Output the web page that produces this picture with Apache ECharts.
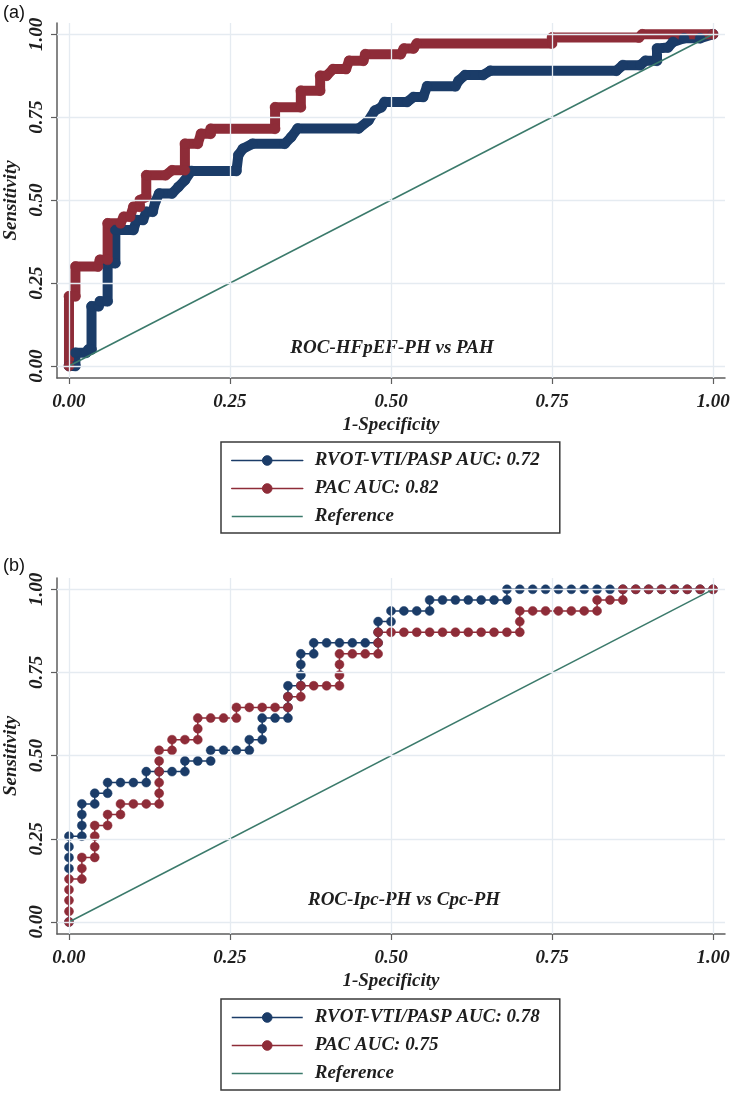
<!DOCTYPE html>
<html><head><meta charset="utf-8">
<script src="https://cdn.jsdelivr.net/npm/echarts@6.0.0/dist/echarts.min.js"></script>
<style>html,body{margin:0;padding:0;background:#fff;}#c{width:743px;height:1094px;}</style>
</head><body><div id="c"></div>
<script>
// ---- tick labels ----
const tickValues = [0, 0.25, 0.5, 0.75, 1];

// ---- panel (a): ROC-HFpEF-PH vs PAH ----
const aTitle = 'ROC-HFpEF-PH vs PAH';
const aBlueName = 'RVOT-VTI/PASP AUC: 0.72';
const aRedName = 'PAC AUC: 0.82';
const aBlueX = [0,0.01,0.01,0.027,0.03,0.035,0.035,0.046,0.048,0.06,0.06,0.072,0.072,0.10,0.105,0.115,0.12,0.13,0.134,0.14,0.16,0.17,0.18,0.19,0.26,0.263,0.27,0.285,0.335,0.345,0.355,0.45,0.465,0.475,0.485,0.49,0.525,0.535,0.55,0.556,0.60,0.605,0.615,0.643,0.654,0.85,0.86,0.887,0.895,0.913,0.913,0.93,0.938,0.955,0.98,1];
const aBlueY = [0,0,0.04,0.04,0.05,0.05,0.18,0.18,0.195,0.195,0.31,0.31,0.41,0.41,0.44,0.44,0.465,0.465,0.495,0.52,0.52,0.54,0.56,0.588,0.588,0.636,0.655,0.67,0.67,0.69,0.716,0.716,0.74,0.77,0.78,0.796,0.796,0.811,0.811,0.843,0.843,0.86,0.877,0.877,0.89,0.89,0.907,0.907,0.92,0.92,0.957,0.96,0.977,0.988,0.988,1];
const aRedX = [0,0,0.01,0.01,0.045,0.048,0.06,0.06,0.08,0.085,0.095,0.10,0.11,0.11,0.12,0.12,0.15,0.16,0.18,0.18,0.20,0.205,0.22,0.22,0.32,0.32,0.36,0.36,0.39,0.39,0.40,0.41,0.43,0.435,0.457,0.46,0.515,0.52,0.535,0.54,0.75,0.75,0.885,0.89,1];
const aRedY = [0,0.21,0.21,0.30,0.30,0.32,0.32,0.43,0.43,0.45,0.45,0.48,0.48,0.50,0.51,0.575,0.575,0.59,0.59,0.67,0.67,0.70,0.70,0.715,0.715,0.78,0.78,0.83,0.83,0.875,0.875,0.895,0.895,0.92,0.92,0.94,0.94,0.957,0.957,0.972,0.972,0.99,0.99,1,1];

// ---- panel (b): ROC-Ipc-PH vs Cpc-PH ----
const bTitle = 'ROC-Ipc-PH vs Cpc-PH';
const bBlueName = 'RVOT-VTI/PASP AUC: 0.78';
const bRedName = 'PAC AUC: 0.75';
const bBlueX = [0,0,0,0,0,0.02,0.02,0.02,0.02,0.04,0.04,0.06,0.06,0.08,0.10,0.12,0.12,0.14,0.16,0.18,0.18,0.20,0.22,0.22,0.24,0.26,0.28,0.28,0.30,0.30,0.30,0.32,0.34,0.34,0.34,0.34,0.36,0.36,0.36,0.36,0.38,0.38,0.40,0.42,0.44,0.46,0.48,0.48,0.48,0.50,0.50,0.52,0.54,0.56,0.56,0.58,0.60,0.62,0.64,0.66,0.68,0.68,0.70,0.72,0.74,0.76,0.78,0.80,0.82,0.84,0.86,0.88,0.90,0.92,0.94,0.96,0.98,1.00];
const bBlueY = [0,0.161,0.194,0.226,0.258,0.258,0.290,0.323,0.355,0.355,0.387,0.387,0.419,0.419,0.419,0.419,0.452,0.452,0.452,0.452,0.484,0.484,0.484,0.516,0.516,0.516,0.516,0.548,0.548,0.581,0.613,0.613,0.613,0.645,0.677,0.710,0.710,0.742,0.774,0.806,0.806,0.839,0.839,0.839,0.839,0.839,0.839,0.871,0.903,0.903,0.935,0.935,0.935,0.935,0.968,0.968,0.968,0.968,0.968,0.968,0.968,1,1,1,1,1,1,1,1,1,1,1,1,1,1,1,1,1];
const bRedX = [0,0,0,0,0,0.02,0.02,0.02,0.04,0.04,0.04,0.04,0.06,0.06,0.08,0.08,0.10,0.12,0.14,0.14,0.14,0.14,0.14,0.14,0.16,0.16,0.18,0.20,0.20,0.20,0.22,0.24,0.26,0.26,0.28,0.30,0.32,0.34,0.34,0.36,0.36,0.38,0.40,0.42,0.42,0.42,0.42,0.44,0.46,0.48,0.48,0.48,0.50,0.52,0.54,0.56,0.58,0.60,0.62,0.64,0.66,0.68,0.70,0.70,0.70,0.72,0.74,0.76,0.78,0.80,0.82,0.82,0.84,0.86,0.86,0.88,0.90,0.92,0.94,0.96,0.98,1.00];
const bRedY = [0,0.032,0.065,0.097,0.129,0.129,0.161,0.194,0.194,0.226,0.258,0.290,0.290,0.323,0.323,0.355,0.355,0.355,0.355,0.387,0.419,0.452,0.484,0.516,0.516,0.548,0.548,0.548,0.581,0.613,0.613,0.613,0.613,0.645,0.645,0.645,0.645,0.645,0.677,0.677,0.710,0.710,0.710,0.710,0.742,0.774,0.806,0.806,0.806,0.806,0.839,0.871,0.871,0.871,0.871,0.871,0.871,0.871,0.871,0.871,0.871,0.871,0.871,0.903,0.935,0.935,0.935,0.935,0.935,0.935,0.935,0.968,0.968,0.968,1,1,1,1,1,1,1,1];

// ---- reference diagonal ----
const refName = 'Reference';
const refX = [0, 1];
const refY = [0, 1];

const zip = (xs, ys) => xs.map((x, i) => [x, ys[i]]);

const BLUE = '#1b3c68';
const RED = '#8e2c38';
const GREEN = '#3b7a6b';
const GRID = '#e5ebf1';
const AXIS = '#5e5e5e';
const SERIF = '"Liberation Serif", "DejaVu Serif", serif';
const FS = 19;
const txt = { fontFamily: SERIF, fontStyle: 'italic', fontWeight: 'bold', fontSize: FS, color: '#1e1e1e' };
const fmt = v => Number(v).toFixed(2);

const panels = [
  { top: 23, height: 355, legendTop: 442, title: aTitle, titleX: 392, titleY: 348, tag: '(a)', tagY: 4 },
  { top: 578, height: 356, legendTop: 999, title: bTitle, titleX: 404, titleY: 900, tag: '(b)', tagY: 557 }
];

const grid = panels.map(p => ({ left: 57, top: p.top, width: 668, height: p.height, containLabel: false, outerBoundsMode: 'none' }));

const xAxis = panels.map((p, i) => ({
  type: 'value', gridIndex: i, min: -0.0186, max: 1.0186,
  axisLine: { show: true, onZero: false, lineStyle: { color: AXIS, width: 1.5 } },
  axisTick: { show: true, customValues: tickValues, length: 6, lineStyle: { color: AXIS, width: 1.2 } },
  axisLabel: Object.assign({ customValues: tickValues, formatter: fmt, margin: 15 }, txt),
  splitLine: { show: false },
  name: '1-Specificity', nameLocation: 'middle', nameGap: 38, nameTextStyle: Object.assign({}, txt)
}));

const yAxis = panels.map((p, i) => ({
  type: 'value', gridIndex: i, min: -0.0361, max: 1.034,
  axisLine: { show: true, onZero: false, lineStyle: { color: AXIS, width: 1.5 } },
  axisTick: { show: true, customValues: tickValues, length: 6, lineStyle: { color: AXIS, width: 1.2 } },
  axisLabel: Object.assign({ customValues: tickValues, formatter: fmt, margin: 10, rotate: 90 }, txt),
  splitLine: { show: false },
  name: 'Sensitivity', nameLocation: 'middle', nameGap: 29, nameRotate: 90, nameTextStyle: Object.assign({}, txt)
}));

function gridSeries(i) {
  return {
    type: 'line', xAxisIndex: i, yAxisIndex: i, data: [], z: 0, silent: true,
    markLine: {
      silent: true, symbol: 'none', animation: false, label: { show: false },
      lineStyle: { color: GRID, width: 1.3, type: 'solid' },
      data: tickValues.map(v => ({ xAxis: v })).concat(tickValues.map(v => ({ yAxis: v })))
    }
  };
}

function thickCurve(i, name, xs, ys, color) {
  return {
    type: 'line', name, xAxisIndex: i, yAxisIndex: i, data: zip(xs, ys),
    symbol: 'circle', symbolSize: 10, showAllSymbol: true, z: 2,
    itemStyle: { color, borderColor: color, borderWidth: 0.5 },
    lineStyle: { color, width: 10, join: 'round', cap: 'round' }
  };
}
function dotCurve(i, name, xs, ys, color) {
  return {
    type: 'line', name, xAxisIndex: i, yAxisIndex: i, data: zip(xs, ys),
    symbol: 'circle', symbolSize: 9, showAllSymbol: true, z: 2,
    itemStyle: { color, borderColor: color, borderWidth: 0.5 },
    lineStyle: { color, width: 1.5 }
  };
}
function refSeries(i) {
  return {
    type: 'line', name: refName, xAxisIndex: i, yAxisIndex: i, data: zip(refX, refY),
    symbol: 'none', z: 3, itemStyle: { color: GREEN },
    lineStyle: { color: GREEN, width: 1.5 }
  };
}

const series = [
  gridSeries(0),
  thickCurve(0, aBlueName, aBlueX, aBlueY, BLUE),
  thickCurve(0, aRedName, aRedX, aRedY, RED),
  refSeries(0),
  gridSeries(1),
  dotCurve(1, bBlueName, bBlueX, bBlueY, BLUE),
  dotCurve(1, bRedName, bRedX, bRedY, RED),
  refSeries(1)
];

const legendNames = [[aBlueName, aRedName], [bBlueName, bRedName]];
const legend = panels.map((p, i) => ({
  orient: 'vertical', left: 221, top: p.legendTop,
  data: legendNames[i].map(n => ({ name: n })).concat([{ name: refName, itemStyle: { opacity: 0, borderWidth: 0 } }]),
  padding: [8, 20, 6, 10], itemGap: 7, itemWidth: 71, itemHeight: 12,
  borderColor: '#3a3a3a', borderWidth: 1.5, backgroundColor: '#fff', borderRadius: 0,
  selectedMode: false,
  lineStyle: { width: 1.5 },
  itemStyle: { borderWidth: 1 },
  textStyle: Object.assign({ lineHeight: 21, padding: [0, 0, 0, 7] }, txt)
}));

const graphic = panels.flatMap(p => [
  { type: 'text', x: p.titleX, y: p.titleY, style: { text: p.title, align: 'center', verticalAlign: 'middle', font: 'italic bold ' + FS + 'px ' + SERIF, fill: '#1e1e1e' } },
  { type: 'text', x: 3, y: p.tagY, style: { text: p.tag, align: 'left', verticalAlign: 'top', font: '18px "Liberation Sans", Arial, sans-serif', fill: '#111' } }
]);

const chart = echarts.init(document.getElementById('c'), null, { renderer: 'canvas' });
chart.setOption({
  animation: false, backgroundColor: '#ffffff',
  grid, xAxis, yAxis, series, legend, graphic
});
</script></body></html>
